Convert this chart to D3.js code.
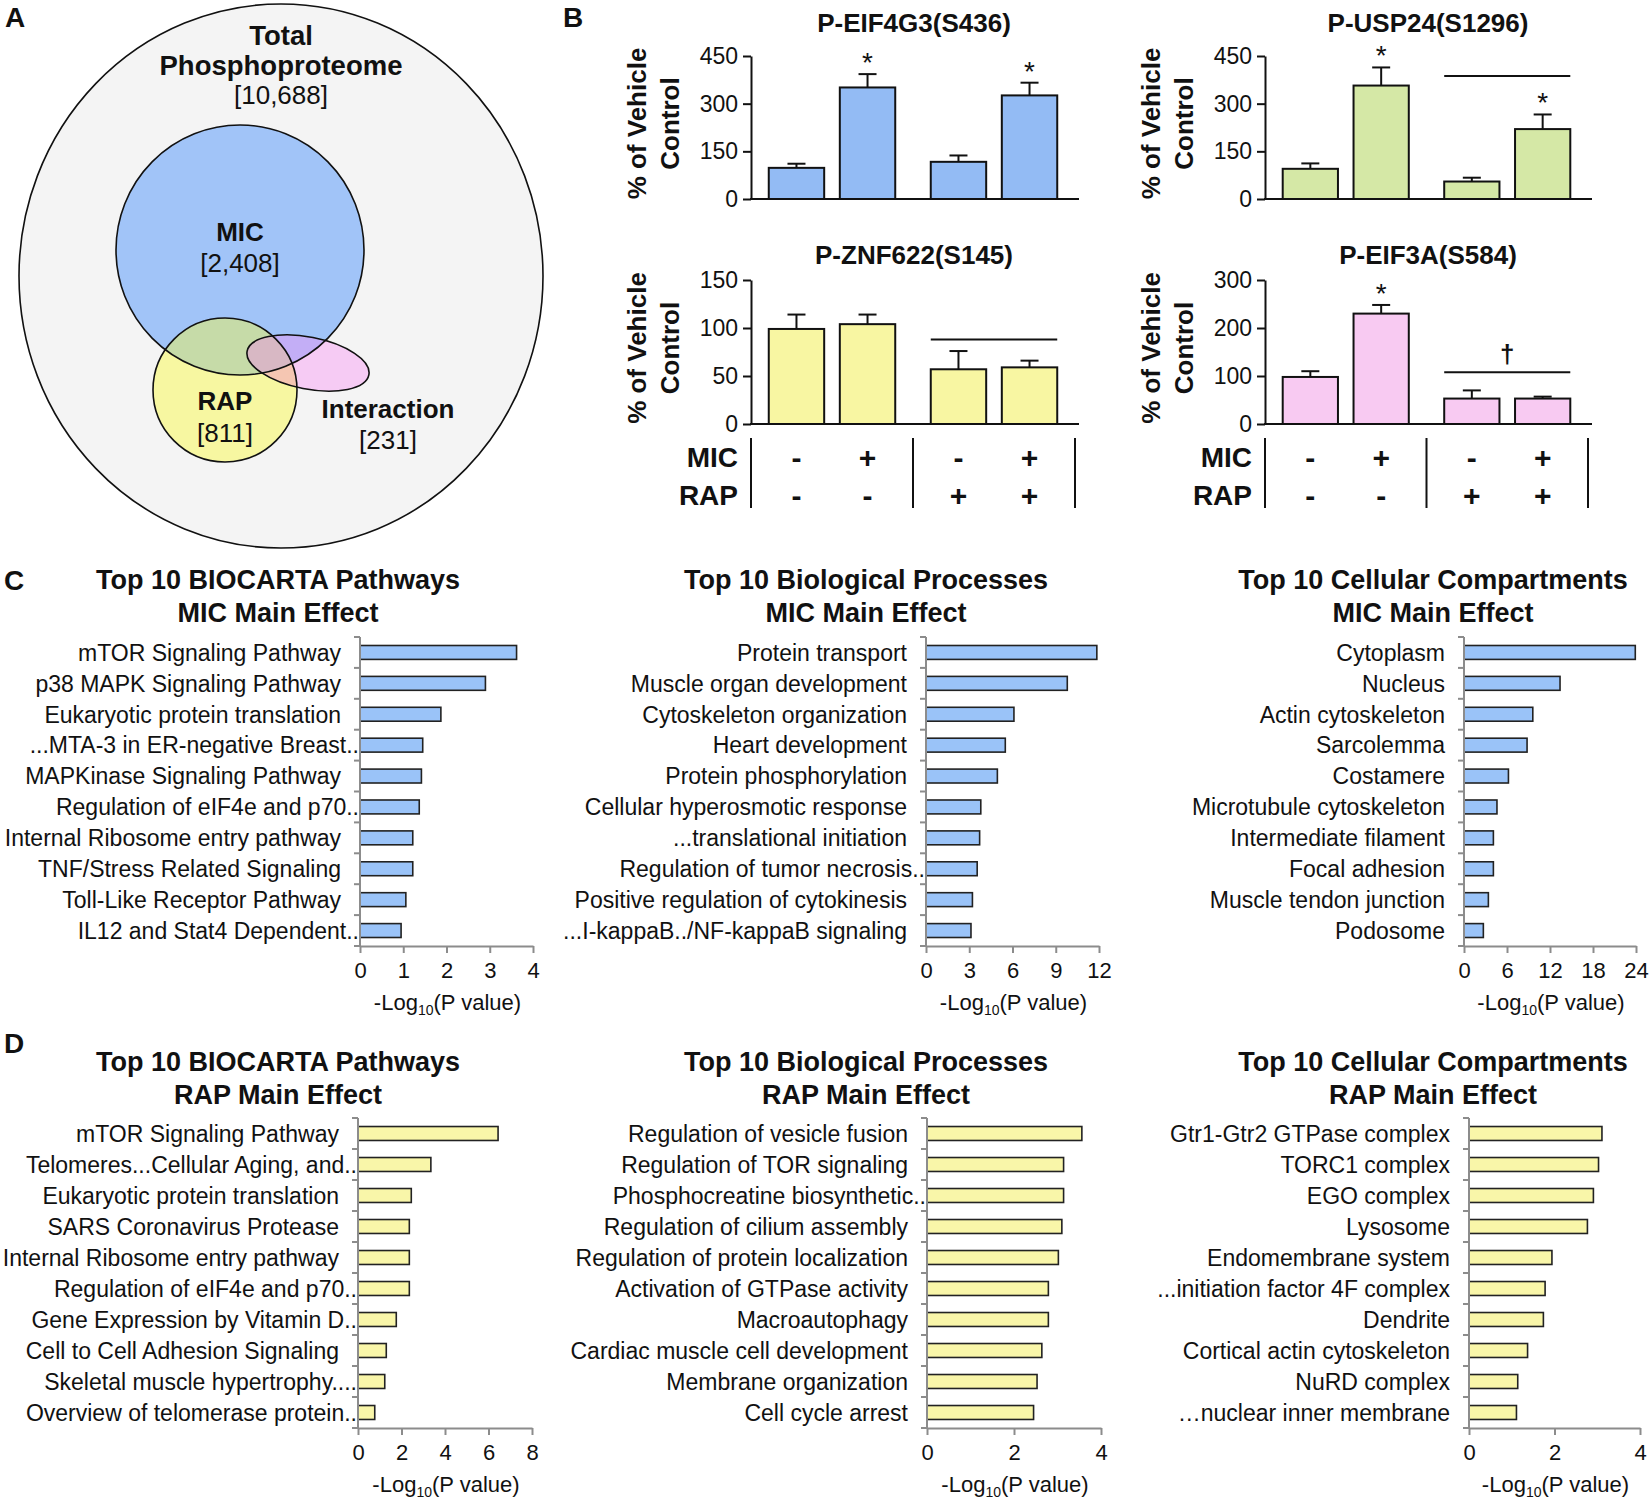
<!DOCTYPE html>
<html>
<head>
<meta charset="utf-8">
<script src="https://cdn.jsdelivr.net/npm/d3@7"></script>
<style>
  body { margin: 0; background: #ffffff; }
  svg { display: block; }
</style>
</head>
<body>
<script>
// ---------------- DATA ----------------
// Panel A: Venn counts
const vennNames = ["Total Phosphoproteome", "MIC", "RAP", "Interaction"];
const vennCounts = [10688, 2408, 811, 231];

// Panel B: treatment table
const micSigns = ["-", "+", "-", "+"];
const rapSigns = ["-", "-", "+", "+"];

const eif4g3Mean = [98, 351, 117, 326];
const eif4g3Sem  = [13, 42, 20, 40];
const eif4g3Sig  = ["", "*", "", "*"];
const eif4g3Ticks = [0, 150, 300, 450];

const usp24Mean = [95, 357, 55, 220];
const usp24Sem  = [17, 57, 12, 46];
const usp24Sig  = ["", "*", "", "*"];
const usp24Bar  = 387;           // RAP main-effect bar
const usp24Ticks = [0, 150, 300, 450];

const znf622Mean = [99, 104, 57, 59];
const znf622Sem  = [15, 10, 19, 7];
const znf622Sig  = ["", "", "", ""];
const znf622Bar  = 88;
const znf622Ticks = [0, 50, 100, 150];

const eif3aMean = [98, 230, 53, 53];
const eif3aSem  = [12, 18, 17, 4];
const eif3aSig  = ["", "*", "", ""];
const eif3aBar  = 108;
const eif3aBarMark = "\u2020";
const eif3aTicks = [0, 100, 200, 300];

// Panel C: MIC main effect
const micBiocartaLabels = ["mTOR Signaling Pathway", "p38 MAPK Signaling Pathway", "Eukaryotic protein translation",
  "...MTA-3 in ER-negative Breast..", "MAPKinase Signaling Pathway", "Regulation of eIF4e and p70..",
  "Internal Ribosome entry pathway", "TNF/Stress Related Signaling", "Toll-Like Receptor Pathway", "IL12 and Stat4 Dependent.."];
const micBiocartaValues = [3.62, 2.9, 1.87, 1.45, 1.42, 1.37, 1.22, 1.22, 1.06, 0.95];
const micBiocartaTicks = [0, 1, 2, 3, 4];

const micProcessLabels = ["Protein transport", "Muscle organ development", "Cytoskeleton organization", "Heart development",
  "Protein phosphorylation", "Cellular hyperosmotic response", "...translational initiation", "Regulation of tumor necrosis..",
  "Positive regulation of cytokinesis", "...I-kappaB../NF-kappaB signaling"];
const micProcessValues = [11.85, 9.8, 6.1, 5.5, 4.95, 3.8, 3.72, 3.55, 3.22, 3.12];
const micProcessTicks = [0, 3, 6, 9, 12];

const micCompLabels = ["Cytoplasm", "Nucleus", "Actin cytoskeleton", "Sarcolemma", "Costamere", "Microtubule cytoskeleton",
  "Intermediate filament", "Focal adhesion", "Muscle tendon junction", "Podosome"];
const micCompValues = [23.9, 13.4, 9.6, 8.8, 6.2, 4.6, 4.1, 4.1, 3.4, 2.7];
const micCompTicks = [0, 6, 12, 18, 24];

// Panel D: RAP main effect
const rapBiocartaLabels = ["mTOR Signaling Pathway", "Telomeres...Cellular Aging, and..", "Eukaryotic protein translation",
  "SARS Coronavirus Protease", "Internal Ribosome entry pathway", "Regulation of eIF4e and p70..", "Gene Expression by Vitamin D..",
  "Cell to Cell Adhesion Signaling", "Skeletal muscle hypertrophy....", "Overview of telomerase protein.."];
const rapBiocartaValues = [6.44, 3.35, 2.45, 2.36, 2.36, 2.36, 1.76, 1.3, 1.23, 0.77];
const rapBiocartaTicks = [0, 2, 4, 6, 8];

const rapProcessLabels = ["Regulation of vesicle fusion", "Regulation of TOR signaling", "Phosphocreatine biosynthetic..",
  "Regulation of cilium assembly", "Regulation of protein localization", "Activation of GTPase activity", "Macroautophagy",
  "Cardiac muscle cell development", "Membrane organization", "Cell cycle arrest"];
const rapProcessValues = [3.56, 3.14, 3.14, 3.1, 3.02, 2.79, 2.79, 2.64, 2.53, 2.45];
const rapProcessTicks = [0, 2, 4];

const rapCompLabels = ["Gtr1-Gtr2 GTPase complex", "TORC1 complex", "EGO complex", "Lysosome", "Endomembrane system",
  "...initiation factor 4F complex", "Dendrite", "Cortical actin cytoskeleton", "NuRD complex", "\u2026nuclear inner membrane"];
const rapCompValues = [3.11, 3.03, 2.91, 2.77, 1.94, 1.78, 1.74, 1.37, 1.14, 1.11];
const rapCompTicks = [0, 2, 4];

// ---------------- DRAWING ----------------
const FF = "'Liberation Sans', Arial, Helvetica, sans-serif";
const INK = "#111";
const svg = d3.select("body").append("svg")
  .attr("width", 1652).attr("height", 1500)
  .style("font-family", FF);

// Panel letters
[["A", 5, 27], ["B", 563, 27], ["C", 4, 590], ["D", 4, 1053]].forEach(([t, x, y]) => {
  svg.append("text").attr("x", x).attr("y", y).attr("font-size", 28).attr("font-weight", "bold")
    .attr("fill", INK).text(t);
});

// ---------- Panel A: Venn ----------
(function venn() {
  const fmt = d3.format(",");
  const g = svg.append("g");
  const defs = svg.append("defs");
  const shapes = {
    total: { cx: 281, cy: 276, rx: 262, ry: 272, rot: 0 },
    mic:   { cx: 240, cy: 250, rx: 124, ry: 125, rot: 0 },
    rap:   { cx: 225, cy: 390, rx: 72,  ry: 72,  rot: 0 },
    inter: { cx: 308, cy: 363, rx: 62,  ry: 26,  rot: 11 }
  };
  const ell = (sel, s) => sel.append("ellipse").attr("cx", s.cx).attr("cy", s.cy).attr("rx", s.rx).attr("ry", s.ry)
    .attr("transform", `rotate(${s.rot},${s.cx},${s.cy})`);
  ["mic", "rap", "inter"].forEach(k => ell(defs.append("clipPath").attr("id", "clip-" + k), shapes[k]));

  ell(g, shapes.total).attr("fill", "#f4f4f4");
  ell(g, shapes.mic).attr("fill", "#a1c4f8");
  ell(g, shapes.rap).attr("fill", "#f7f7a1");
  ell(g.append("g").attr("clip-path", "url(#clip-mic)"), shapes.rap).attr("fill", "#c6dba8");
  ell(g, shapes.inter).attr("fill", "#f6cbf4");
  ell(g.append("g").attr("clip-path", "url(#clip-mic)"), shapes.inter).attr("fill", "#c3aef6");
  ell(g.append("g").attr("clip-path", "url(#clip-rap)"), shapes.inter).attr("fill", "#f5c6b2");
  ell(g.append("g").attr("clip-path", "url(#clip-mic)").append("g").attr("clip-path", "url(#clip-rap)"), shapes.inter)
    .attr("fill", "#d8b8c4");
  ["total", "mic", "rap", "inter"].forEach(k => ell(g, shapes[k]).attr("fill", "none").attr("stroke", "#111").attr("stroke-width", 1.6));

  const label = (lines, x, y0, lh, fs) => {
    lines.forEach((l, i) => {
      g.append("text").attr("x", x).attr("y", y0 + i * lh).attr("dy", "0.35em").attr("text-anchor", "middle")
        .attr("font-size", l.bold ? fs : 26).attr("font-weight", l.bold ? "bold" : "normal").attr("fill", INK).text(l.t);
    });
  };
  label([{ t: "Total", bold: 1 }, { t: "Phosphoproteome", bold: 1 }, { t: `[${fmt(vennCounts[0])}]` }], 281, 35, 30, 27.5);
  label([{ t: vennNames[1], bold: 1 }, { t: `[${fmt(vennCounts[1])}]` }], 240, 232, 31, 26);
  label([{ t: vennNames[2], bold: 1 }, { t: `[${fmt(vennCounts[2])}]` }], 225, 401, 32, 26);
  label([{ t: vennNames[3], bold: 1 }, { t: `[${fmt(vennCounts[3])}]` }], 388, 409, 31, 26);
})();

// ---------- Panel B: bar charts ----------
function barPanel(o) {
  const g = svg.append("g");
  const groupW = o.groupW;
  const xOuter = d3.scaleBand().domain(["-", "+"]).range([o.axisX, o.axisX + 2 * groupW]);
  const xInner = d3.scaleBand().domain(["-", "+"]).range([0, groupW]).paddingInner(0.22).paddingOuter(0.25);
  const bw = xInner.bandwidth();
  const xPos = i => xOuter(rapSigns[i]) + xInner(micSigns[i]);
  const y = d3.scaleLinear().domain([0, o.ticks[o.ticks.length - 1]]).range([o.yBottom, o.yTop]);

  // title
  g.append("text").attr("x", o.titleX).attr("y", o.titleY).attr("dy", "0.35em").attr("text-anchor", "middle")
    .attr("font-size", 26).attr("font-weight", "bold").attr("fill", INK).text(o.title);

  // y label
  const cy = (o.yTop + o.yBottom) / 2 - 4;
  [["% of Vehicle", o.axisX - 114], ["Control", o.axisX - 81]].forEach(([t, x]) => {
    g.append("text").attr("transform", `translate(${x},${cy}) rotate(-90)`).attr("dy", "0.35em")
      .attr("text-anchor", "middle").attr("font-size", 26).attr("font-weight", "bold").attr("fill", INK).text(t);
  });

  // bars
  const idx = d3.range(o.means.length);
  g.selectAll("rect.bar").data(idx).join("rect")
    .attr("x", i => xPos(i)).attr("y", i => y(o.means[i]))
    .attr("width", bw).attr("height", i => y(0) - y(o.means[i]))
    .attr("fill", o.fill).attr("stroke", "#111").attr("stroke-width", 2);
  // error bars
  idx.forEach(i => {
    const cx = xPos(i) + bw / 2;
    const top = y(o.means[i] + o.sems[i]);
    g.append("line").attr("x1", cx).attr("x2", cx).attr("y1", y(o.means[i])).attr("y2", top)
      .attr("stroke", "#111").attr("stroke-width", 2);
    g.append("line").attr("x1", cx - 9).attr("x2", cx + 9).attr("y1", top).attr("y2", top)
      .attr("stroke", "#111").attr("stroke-width", 2);
    if (o.sig[i]) {
      g.append("text").attr("x", cx).attr("y", top - 2).attr("text-anchor", "middle")
        .attr("font-size", 28).attr("fill", INK).text(o.sig[i]);
    }
  });
  // bracket over RAP groups
  if (o.bracket != null) {
    const yb = y(o.bracket);
    g.append("line").attr("x1", xPos(2)).attr("x2", xPos(3) + bw).attr("y1", yb).attr("y2", yb)
      .attr("stroke", "#111").attr("stroke-width", 2);
    if (o.bracketMark) {
      g.append("text").attr("x", (xPos(2) + xPos(3) + bw) / 2).attr("y", yb - 9).attr("text-anchor", "middle")
        .attr("font-size", 26).attr("font-weight", "bold").attr("fill", INK).text(o.bracketMark);
    }
  }

  // y axis
  const ax = g.append("g").attr("transform", `translate(${o.axisX},0)`)
    .call(d3.axisLeft(y).tickValues(o.ticks).tickSize(8).tickSizeOuter(0).tickPadding(5).tickFormat(d3.format("d")));
  ax.select(".domain").attr("stroke", "#111").attr("stroke-width", 2);
  ax.selectAll(".tick line").attr("stroke", "#111").attr("stroke-width", 2);
  ax.selectAll(".tick text").attr("font-size", 23).attr("font-family", FF).attr("fill", INK);
  // baseline
  g.append("line").attr("x1", o.axisX - 1).attr("x2", o.axisX + 2 * groupW + 4).attr("y1", y(0)).attr("y2", y(0))
    .attr("stroke", "#111").attr("stroke-width", 2);

  if (o.table) {
    const rows = [["MIC", micSigns, 457], ["RAP", rapSigns, 495]];
    rows.forEach(([name, signs, ry]) => {
      g.append("text").attr("x", o.axisX - 13).attr("y", ry).attr("dy", "0.35em").attr("text-anchor", "end")
        .attr("font-size", 28).attr("font-weight", "bold").attr("fill", INK).text(name);
      signs.forEach((s, i) => {
        g.append("text").attr("x", xPos(i) + bw / 2).attr("y", ry).attr("dy", "0.35em").attr("text-anchor", "middle")
          .attr("font-size", 30).attr("font-weight", "bold").attr("fill", INK).text(s);
      });
    });
    [0, 1, 2].forEach(k => {
      const xs = o.axisX + k * groupW;
      g.append("line").attr("x1", xs).attr("x2", xs).attr("y1", 438).attr("y2", 508)
        .attr("stroke", "#111").attr("stroke-width", 2);
    });
  }
}

barPanel({ axisX: 751, groupW: 162, yTop: 56, yBottom: 199, ticks: eif4g3Ticks, titleX: 914, titleY: 23, title: "P-EIF4G3(S436)",
  means: eif4g3Mean, sems: eif4g3Sem, sig: eif4g3Sig, fill: "#93bbf4" });
barPanel({ axisX: 751, groupW: 162, yTop: 280, yBottom: 424, ticks: znf622Ticks, titleX: 914, titleY: 255, title: "P-ZNF622(S145)",
  means: znf622Mean, sems: znf622Sem, sig: znf622Sig, fill: "#f8f6a2", bracket: znf622Bar, table: true });
barPanel({ axisX: 1265, groupW: 161.5, yTop: 56, yBottom: 199, ticks: usp24Ticks, titleX: 1428, titleY: 23, title: "P-USP24(S1296)",
  means: usp24Mean, sems: usp24Sem, sig: usp24Sig, fill: "#d5e8a6", bracket: usp24Bar });
barPanel({ axisX: 1265, groupW: 161.5, yTop: 280, yBottom: 424, ticks: eif3aTicks, titleX: 1428, titleY: 255, title: "P-EIF3A(S584)",
  means: eif3aMean, sems: eif3aSem, sig: eif3aSig, fill: "#f8caf2", bracket: eif3aBar, bracketMark: eif3aBarMark, table: true });

// ---------- Panels C & D: horizontal bars ----------
function hbarPanel(o) {
  const g = svg.append("g");
  const x = d3.scaleLinear().domain([0, o.ticks[o.ticks.length - 1]]).range([o.axisX, o.axisX + o.w]);
  const y = d3.scaleBand().domain(o.labels).range([o.yTop, o.yBottom]).paddingInner(0.55).paddingOuter(0.275);
  const step = y.step();

  // titles
  o.titles.forEach((t, i) => {
    g.append("text").attr("x", o.titleX).attr("y", o.titleY + i * 33).attr("dy", "0.35em").attr("text-anchor", "middle")
      .attr("font-size", 27).attr("font-weight", "bold").attr("fill", INK).text(t);
  });

  // bars
  g.selectAll("rect").data(o.labels).join("rect")
    .attr("x", x(0)).attr("y", d => y(d))
    .attr("width", (d, i) => x(o.values[i]) - x(0)).attr("height", y.bandwidth())
    .attr("fill", o.fill).attr("stroke", "#222").attr("stroke-width", 1.6);

  // y axis line with ticks at band boundaries
  const axisCol = "#8c8c8c";
  g.append("line").attr("x1", o.axisX).attr("x2", o.axisX).attr("y1", o.yTop).attr("y2", o.yBottom)
    .attr("stroke", axisCol).attr("stroke-width", 2);
  d3.range(o.labels.length + 1).forEach(k => {
    const yy = o.yTop + k * step;
    g.append("line").attr("x1", o.axisX - 6).attr("x2", o.axisX).attr("y1", yy).attr("y2", yy)
      .attr("stroke", axisCol).attr("stroke-width", 2);
  });

  // category labels
  g.selectAll("text.cat").data(o.labels).join("text").attr("class", "cat")
    .attr("x", d => /\.\.$/.test(d) ? o.axisX - 1 : o.axisX - 19)
    .attr("y", d => y(d) + y.bandwidth() / 2).attr("dy", "0.36em").attr("text-anchor", "end")
    .attr("font-size", 23).attr("fill", INK).text(d => d);

  // x axis
  const ax = g.append("g").attr("transform", `translate(0,${o.yBottom})`)
    .call(d3.axisBottom(x).tickValues(o.ticks).tickSize(7).tickSizeOuter(0).tickPadding(9).tickFormat(d3.format("d")));
  ax.select(".domain").attr("stroke", axisCol).attr("stroke-width", 2);
  ax.selectAll(".tick line").attr("stroke", axisCol).attr("stroke-width", 2);
  ax.selectAll(".tick text").attr("font-size", 22).attr("font-family", FF).attr("fill", INK);

  // axis title
  const t = g.append("text").attr("x", o.axisX + o.w / 2 + 1).attr("y", o.yBottom + 64).attr("text-anchor", "middle")
    .attr("font-size", 22).attr("fill", INK);
  t.append("tspan").text("-Log");
  t.append("tspan").attr("font-size", 14).attr("dy", 5).text("10");
  t.append("tspan").attr("dy", -5).text("(P value)");
}

const blue = "#9ac3f8", yellow = "#f9f6a9";
hbarPanel({ axisX: 360, w: 173, yTop: 637, yBottom: 946, titleX: 278, titleY: 580,
  titles: ["Top 10 BIOCARTA Pathways", "MIC Main Effect"], labels: micBiocartaLabels, values: micBiocartaValues,
  ticks: micBiocartaTicks, fill: blue });
hbarPanel({ axisX: 926, w: 173, yTop: 637, yBottom: 946, titleX: 866, titleY: 580,
  titles: ["Top 10 Biological Processes", "MIC Main Effect"], labels: micProcessLabels, values: micProcessValues,
  ticks: micProcessTicks, fill: blue });
hbarPanel({ axisX: 1464, w: 172, yTop: 637, yBottom: 946, titleX: 1433, titleY: 580,
  titles: ["Top 10 Cellular Compartments", "MIC Main Effect"], labels: micCompLabels, values: micCompValues,
  ticks: micCompTicks, fill: blue });

hbarPanel({ axisX: 358, w: 174, yTop: 1118, yBottom: 1428, titleX: 278, titleY: 1062,
  titles: ["Top 10 BIOCARTA Pathways", "RAP Main Effect"], labels: rapBiocartaLabels, values: rapBiocartaValues,
  ticks: rapBiocartaTicks, fill: yellow });
hbarPanel({ axisX: 927, w: 174, yTop: 1118, yBottom: 1428, titleX: 866, titleY: 1062,
  titles: ["Top 10 Biological Processes", "RAP Main Effect"], labels: rapProcessLabels, values: rapProcessValues,
  ticks: rapProcessTicks, fill: yellow });
hbarPanel({ axisX: 1469, w: 171, yTop: 1118, yBottom: 1428, titleX: 1433, titleY: 1062,
  titles: ["Top 10 Cellular Compartments", "RAP Main Effect"], labels: rapCompLabels, values: rapCompValues,
  ticks: rapCompTicks, fill: yellow });
</script>
</body>
</html>
